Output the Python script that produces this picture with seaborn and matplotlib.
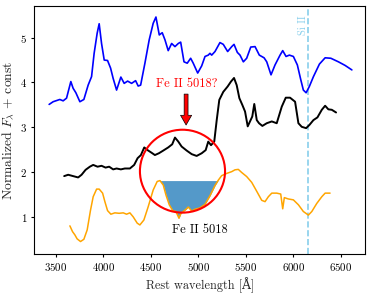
import numpy as np
import pandas as pd
import matplotlib
matplotlib.use('Agg')
import matplotlib.pyplot as plt
from matplotlib.patches import Ellipse
import seaborn as sns

# ─── data ────────────────────────────────────────────────────────────────────
blue_wave = [3432, 3474, 3544, 3579, 3615, 3660, 3684, 3713, 3755, 3797, 3842, 3878,
             3905, 3937, 3958, 3983, 4011, 4046, 4078, 4105, 4141, 4186, 4221, 4257,
             4299, 4341, 4368, 4394, 4439, 4484, 4526, 4555, 4590, 4621, 4650, 4684,
             4720, 4755, 4790, 4815, 4850, 4884, 4920, 4947, 4994, 5036, 5071, 5105,
             5123, 5141, 5176, 5228, 5263, 5309, 5352, 5376, 5411, 5439, 5474, 5509,
             5552, 5597, 5642, 5692, 5720, 5765, 5807, 5860, 5888, 5923, 5958, 6000,
             6042, 6078, 6105, 6134, 6168, 6211, 6274, 6334, 6394, 6474, 6544, 6615]
blue_flux = [3.51, 3.57, 3.62, 3.59, 3.65, 4.02, 3.87, 3.77, 3.57, 3.62, 3.94, 4.13,
             4.65, 5.10, 5.31, 4.87, 4.50, 4.49, 4.32, 4.09, 3.83, 4.12, 3.98, 4.03,
             3.98, 4.04, 3.92, 3.94, 4.43, 4.95, 5.32, 5.46, 5.06, 5.11, 4.95, 4.71,
             4.87, 4.80, 4.87, 4.90, 4.46, 4.43, 4.54, 4.43, 4.21, 4.37, 4.58, 4.61,
             4.65, 4.61, 4.69, 4.89, 4.85, 4.69, 4.80, 4.85, 4.67, 4.61, 4.46, 4.54,
             4.79, 4.80, 4.61, 4.55, 4.46, 4.17, 4.39, 4.61, 4.71, 4.58, 4.61, 4.58,
             4.39, 4.06, 3.83, 3.77, 3.91, 4.13, 4.41, 4.55, 4.54, 4.46, 4.38, 4.28]

black_wave = [3590, 3632, 3684, 3737, 3773, 3815, 3860, 3895, 3941, 3983, 4025, 4063,
              4105, 4141, 4186, 4228, 4281, 4326, 4362, 4397, 4432, 4467, 4510, 4544,
              4586, 4632, 4684, 4726, 4755, 4790, 4825, 4878, 4931, 4983, 5036, 5078,
              5105, 5134, 5168, 5194, 5221, 5263, 5309, 5344, 5376, 5404, 5432, 5463,
              5492, 5520, 5544, 5568, 5589, 5615, 5639, 5674, 5720, 5773, 5825, 5878,
              5920, 5965, 6018, 6053, 6088, 6134, 6168, 6211, 6253, 6299, 6334, 6368,
              6404, 6449]
black_flux = [1.91, 1.94, 1.91, 1.88, 1.94, 2.05, 2.12, 2.16, 2.12, 2.14, 2.10, 2.12,
              2.06, 2.08, 2.06, 2.08, 2.08, 2.16, 2.31, 2.38, 2.55, 2.49, 2.43, 2.38,
              2.42, 2.48, 2.55, 2.62, 2.77, 2.68, 2.57, 2.48, 2.40, 2.36, 2.42, 2.49,
              2.68, 2.60, 2.68, 3.16, 3.61, 3.79, 3.91, 4.02, 4.10, 3.94, 3.65, 3.50,
              3.35, 3.02, 3.13, 3.24, 3.52, 3.16, 3.09, 3.03, 3.09, 3.13, 3.09, 3.46,
              3.66, 3.66, 3.57, 3.09, 3.01, 2.98, 3.05, 3.16, 3.22, 3.39, 3.48, 3.40,
              3.39, 3.33]

orange_wave = [3650, 3678, 3702, 3726, 3762, 3797, 3832, 3867, 3895, 3931, 3958, 3994,
               4018, 4046, 4081, 4123, 4168, 4211, 4246, 4281, 4316, 4358, 4386, 4428,
               4474, 4526, 4568, 4597, 4632, 4660, 4695, 4731, 4765, 4797, 4818, 4860,
               4895, 4931, 4965, 5018, 5071, 5123, 5176, 5211, 5246, 5299, 5352, 5386,
               5421, 5457, 5509, 5562, 5615, 5667, 5702, 5737, 5773, 5825, 5867, 5888,
               5905, 5947, 6000, 6053, 6105, 6158, 6194, 6246, 6299, 6334, 6386]
orange_flux = [0.80, 0.67, 0.60, 0.51, 0.45, 0.50, 0.71, 1.15, 1.45, 1.62, 1.62, 1.53,
               1.34, 1.14, 1.06, 1.09, 1.08, 1.09, 1.06, 1.09, 1.00, 0.86, 0.82, 0.93,
               1.23, 1.60, 1.79, 1.81, 1.71, 1.49, 1.27, 1.14, 1.12, 0.97, 1.08, 1.15,
               1.22, 1.13, 1.17, 1.20, 1.28, 1.47, 1.70, 1.82, 1.92, 1.97, 2.01, 2.05,
               2.06, 1.99, 1.90, 1.77, 1.57, 1.37, 1.34, 1.45, 1.53, 1.53, 1.51, 1.18,
               1.43, 1.40, 1.38, 1.27, 1.12, 1.04, 1.12, 1.30, 1.45, 1.53, 1.53]

SI_II = 6155
FILL_TOP = 1.81
FILL_RANGE = (4597, 5211)

# ─── style ──────────────────────────────────────────────────────────────────
sns.set_theme(style='ticks')
plt.rcParams.update({
    'font.family': ['cmr10', 'DejaVu Serif'],
    'mathtext.fontset': 'cm',
    'axes.formatter.use_mathtext': True,
    'axes.linewidth': 0.8,
    'xtick.labelsize': 7.8, 'ytick.labelsize': 7.8,
    'xtick.major.size': 2.5, 'ytick.major.size': 2.5,
    'xtick.major.pad': 2.5, 'ytick.major.pad': 2.5,
    'xtick.major.width': 0.8, 'ytick.major.width': 0.8,
    'axes.edgecolor': 'black', 'xtick.color': 'black', 'ytick.color': 'black',
})

fig, ax = plt.subplots(figsize=(3.73, 2.98), dpi=100)
fig.subplots_adjust(left=0.092, right=0.979, bottom=0.148, top=0.98)

sns.lineplot(x=blue_wave, y=blue_flux, ax=ax, color='blue', lw=1.2,
             sort=False, estimator=None)
sns.lineplot(x=black_wave, y=black_flux, ax=ax, color='black', lw=1.4,
             sort=False, estimator=None)
sns.lineplot(x=orange_wave, y=orange_flux, ax=ax, color='orange', lw=1.1,
             sort=False, estimator=None, zorder=3)

ow = np.array(orange_wave)
of = np.array(orange_flux)
ax.fill_between(ow, of, FILL_TOP, where=(ow >= FILL_RANGE[0]) & (ow <= FILL_RANGE[1]),
                color='#5499c9', lw=0, zorder=2)

ax.axvline(SI_II, color='skyblue', ls='--', lw=1.2, zorder=1)
ax.text(SI_II - 55, 5.05, 'Si II', rotation=90, color='skyblue', fontsize=7.5,
        ha='center', va='bottom')

circ = Ellipse((4834, 2.02), width=895, height=1.85, fill=False,
               edgecolor='red', lw=1.5, zorder=5)
ax.add_patch(circ)

ax.annotate('', xy=(4872, 3.05), xytext=(4872, 3.74),
            arrowprops=dict(facecolor='red', edgecolor='black', lw=0.5,
                            width=2.8, headwidth=8, headlength=7),
            zorder=6)
ax.text(4880, 3.96, 'Fe II 5018?', color='red', fontsize=9,
        ha='center', va='center')
ax.text(5018, 0.70, 'Fe II 5018', color='black', fontsize=9,
        ha='center', va='center')

ax.set_xlim(3276, 6755)
ax.set_ylim(0.174, 5.707)
ax.set_xticks([3500, 4000, 4500, 5000, 5500, 6000, 6500])
ax.set_yticks([1, 2, 3, 4, 5])
ax.set_xlabel('Rest wavelength [Å]', fontsize=8.8, labelpad=3)
ax.set_ylabel(r'Normalized $F_{\lambda}$ + const', fontsize=9.8, labelpad=3)

fig.savefig('out.png', dpi=100)
